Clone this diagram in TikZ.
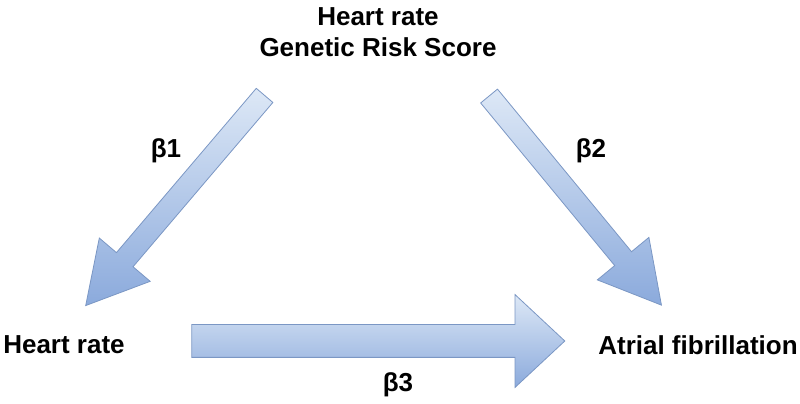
\documentclass[tikz,border=0pt]{standalone}
\usepackage{fontspec}
\setmainfont{Liberation Sans}
\usetikzlibrary{shapes.arrows}
\definecolor{arrowlight}{HTML}{DDE8F6}
\definecolor{arrowdark}{HTML}{8BAADC}
\definecolor{arrowline}{HTML}{7B97C4}
\tikzset{
  fatarrow/.style={single arrow,draw=arrowline,line width=0.8pt,
    top color=arrowlight,bottom color=arrowdark,inner xsep=0pt,
    single arrow head indent=0pt},
  label/.style={font=\bfseries\fontsize{26}{31}\selectfont,align=center}
}
\begin{document}
\begin{tikzpicture}[x=1pt,y=1pt]
\useasboundingbox (0,0) rectangle (800,404);
% texts
\node[label] (grs) at (378,372) {Heart rate\\Genetic Risk Score};
\node[label] (hr) at (64,59) {Heart rate};
\node[label] (af) at (698,59) {Atrial fibrillation};
\node[label] (b1) at (166,253) {β1};
\node[label] (b2) at (591,253) {β2};
\node[label] (b3) at (398,19) {β3};
% arrows
\node[fatarrow,inner ysep=10.5pt,minimum height=276pt,single arrow head extend=22.5pt,
  single arrow tip angle=58,rotate=229.6] (a1) at (181.5,211) {};
\node[fatarrow,inner ysep=10.5pt,minimum height=271pt,single arrow head extend=22.5pt,
  single arrow tip angle=58,rotate=-50.5] (a2) at (569,211) {};
\node[fatarrow,inner ysep=16pt,minimum height=373pt,single arrow head extend=30pt,
  single arrow tip angle=86] (a3) at (369.5,63) {};
\end{tikzpicture}
\end{document}
